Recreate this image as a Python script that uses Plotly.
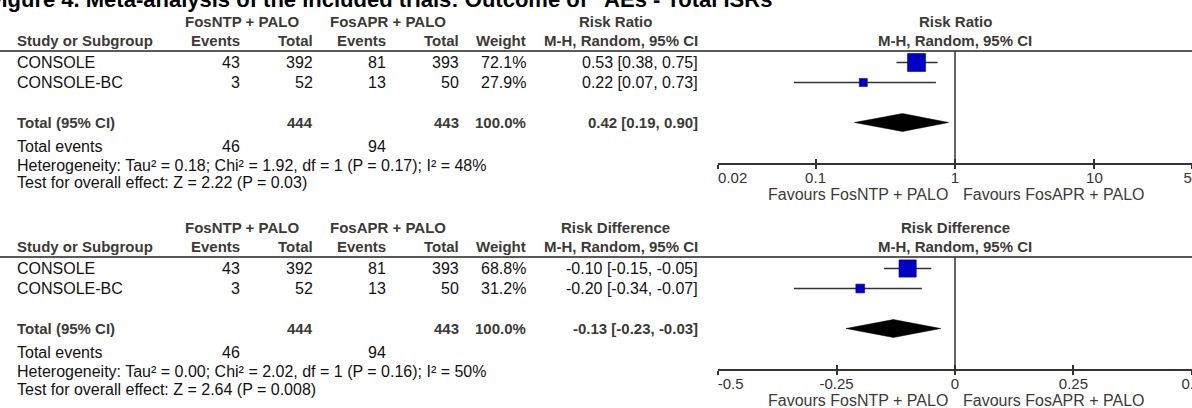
import math
import plotly.graph_objects as go

W, H = 1192, 408

# ---------------- data ----------------
title_text = "Figure 4. Meta-analysis of the included trials: Outcome of \u201cAEs - Total ISRs"
studies = ["CONSOLE", "CONSOLE-BC"]
ntp_events = [43, 3]
ntp_total = [392, 52]
apr_events = [81, 13]
apr_total = [393, 50]
ntp_events_sum = 46
apr_events_sum = 94
ntp_total_sum = 444
apr_total_sum = 443

rr_weight = [72.1, 27.9]
rr_est = [0.53, 0.22]
rr_lo = [0.38, 0.07]
rr_hi = [0.75, 0.73]
rr_pooled = [0.42, 0.19, 0.90]
rr_het = "Heterogeneity: Tau\u00b2 = 0.18; Chi\u00b2 = 1.92, df = 1 (P = 0.17); I\u00b2 = 48%"
rr_test = "Test for overall effect: Z = 2.22 (P = 0.03)"
rr_ticks = [0.02, 0.1, 1, 10, 50]
rr_ticklabels = ["0.02", "0.1", "1", "10", "50"]

rd_weight = [68.8, 31.2]
rd_est = [-0.10, -0.20]
rd_lo = [-0.15, -0.34]
rd_hi = [-0.05, -0.07]
rd_pooled = [-0.13, -0.23, -0.03]
rd_het = "Heterogeneity: Tau\u00b2 = 0.00; Chi\u00b2 = 2.02, df = 1 (P = 0.16); I\u00b2 = 50%"
rd_test = "Test for overall effect: Z = 2.64 (P = 0.008)"
rd_ticks = [-0.5, -0.25, 0, 0.25, 0.5]
rd_ticklabels = ["-0.5", "-0.25", "0", "0.25", "0.5"]

favours_left = "Favours FosNTP + PALO"
favours_right = "Favours FosAPR + PALO"

# ---------------- style ----------------
FONT = "Liberation Sans, Arial, sans-serif"
TXT = "#111111"
HDR = "#3d3a36"
LINE = "#333333"
BLUE = "#0000c4"
FS = 16      # regular table text
FSB = 15     # bold header text

fig = go.Figure()
fig.add_trace(go.Scatter(x=[0], y=[0], mode="markers", marker=dict(opacity=0),
                         hoverinfo="skip", showlegend=False, xaxis="x", yaxis="y"))


def txt(x, y, s, anchor="left", bold=False, size=None, color=TXT):
    if size is None:
        size = FSB if bold else FS
    fig.add_annotation(x=x / W, y=1 - y / H, xref="paper", yref="paper", text=s,
                       showarrow=False, xanchor=anchor, yanchor="middle", borderpad=0,
                       font=dict(family=FONT, size=size, color=color,
                                 weight="bold" if bold else "normal"))


txt(-13, -1, title_text, bold=True, size=22, color="#000000")

C_NAME, C_NE, C_NT, C_AE, C_AT, C_W, C_CI = 16, 241, 314, 387, 460, 527, 699
AX_L = 718
X_NULL = 955
ROW_H = 20

panels = [
    dict(off=0, name="Risk Ratio", w=rr_weight, est=rr_est, lo=rr_lo, hi=rr_hi,
         pooled=rr_pooled, het=rr_het, test=rr_test, ticks=rr_ticks,
         ticklabels=rr_ticklabels, log=True, null=1, xa="x2", ya="y2", xo="x4"),
    dict(off=206, name="Risk Difference", w=rd_weight, est=rd_est, lo=rd_lo, hi=rd_hi,
         pooled=rd_pooled, het=rd_het, test=rd_test, ticks=rd_ticks,
         ticklabels=rd_ticklabels, log=False, null=0, xa="x3", ya="y3", xo="x5"),
]

fmt = "{:.2f} [{:.2f}, {:.2f}]"
for p in panels:
    o = p["off"]
    row0 = 42.5 + o
    line_y = 51 + o
    axis_y = 163 + o
    rows = [row0 + ROW_H * (i + 1) for i in range(len(studies))]
    k_total = len(studies) + 2
    y_total = row0 + ROW_H * k_total - 0.5

    txt(242, 21 + o, "FosNTP + PALO", "center", True, color=HDR)
    txt(388, 21 + o, "FosAPR + PALO", "center", True, color=HDR)
    txt(615, 21 + o, p["name"], "center", True, color=HDR)
    txt(X_NULL, 21 + o, p["name"], "center", True, color=HDR)
    txt(C_NAME, 41 + o, "Study or Subgroup", "left", True, color=HDR)
    txt(C_NE, 41 + o, "Events", "right", True, color=HDR)
    txt(C_NT, 41 + o, "Total", "right", True, color=HDR)
    txt(C_AE, 41 + o, "Events", "right", True, color=HDR)
    txt(C_AT, 41 + o, "Total", "right", True, color=HDR)
    txt(C_W, 41 + o, "Weight", "right", True, color=HDR)
    txt(C_CI, 41 + o, "M-H, Random, 95% CI", "right", True, color=HDR)
    txt(X_NULL, 41 + o, "M-H, Random, 95% CI", "center", True, color=HDR)
    fig.add_shape(type="line", xref="paper", yref="paper", x0=0, x1=1,
                  y0=1 - line_y / H, y1=1 - line_y / H,
                  line=dict(color="#5a5a5a", width=2))

    for i, s in enumerate(studies):
        y = rows[i]
        txt(C_NAME, y, s)
        txt(C_NE, y, str(ntp_events[i]), "right")
        txt(C_NT, y, str(ntp_total[i]), "right")
        txt(C_AE, y, str(apr_events[i]), "right")
        txt(C_AT, y, str(apr_total[i]), "right")
        txt(C_W, y, "{:.1f}%".format(p["w"][i]), "right")
        txt(C_CI, y, fmt.format(p["est"][i], p["lo"][i], p["hi"][i]), "right")

    pe = p["pooled"]
    txt(C_NAME, y_total, "Total (95% CI)", "left", True, color=HDR)
    txt(C_NT, y_total, str(ntp_total_sum), "right", True, color=HDR)
    txt(C_AT, y_total, str(apr_total_sum), "right", True, color=HDR)
    txt(C_W, y_total, "100.0%", "right", True, color=HDR)
    txt(C_CI, y_total, fmt.format(*pe), "right", True, color=HDR)
    txt(C_NAME, 146 + o, "Total events")
    txt(C_NE, 146 + o, str(ntp_events_sum), "right")
    txt(C_AE, 146 + o, str(apr_events_sum), "right")
    txt(C_NAME, 165 + o, p["het"])
    txt(C_NAME, 183 + o, p["test"])

    txt(949, 194 + o, favours_left, "right", size=16, color="#3d3a36")
    txt(962, 194 + o, favours_right, "left", size=16, color="#3d3a36")

    xa, ya = p["xa"], p["ya"]
    ci_x, ci_y = [], []
    for i in range(len(studies)):
        ci_x += [p["lo"][i], p["hi"][i], None]
        ci_y += [i + 1, i + 1, None]
    fig.add_trace(go.Scatter(x=ci_x, y=ci_y, mode="lines", line=dict(color=LINE, width=1.6),
                             xaxis=xa, yaxis=ya, hoverinfo="skip", showlegend=False))
    sizes = [1.7 + 0.226 * w for w in p["w"]]
    fig.add_trace(go.Scatter(x=p["est"], y=[i + 1 for i in range(len(studies))], mode="markers",
                             marker=dict(symbol="square", size=sizes, color=BLUE, opacity=1,
                                         line=dict(color="#00009a", width=0.6)),
                             xaxis=xa, yaxis=ya, hoverinfo="skip", showlegend=False))
    hh = 0.45
    est, lo, hi = pe
    fig.add_trace(go.Scatter(x=[lo, est, hi, est, lo],
                             y=[k_total, k_total - hh, k_total, k_total + hh, k_total],
                             mode="lines", fill="toself", fillcolor="#000000",
                             line=dict(color="#000000", width=0.5),
                             xaxis=xa, yaxis=ya, hoverinfo="skip", showlegend=False))
    fig.add_trace(go.Scatter(x=[p["null"]], y=[1], mode="markers", marker=dict(opacity=0),
                             xaxis=p["xo"], yaxis=ya, hoverinfo="skip", showlegend=False))

    fig.add_shape(type="line", xref=xa, yref=ya + " domain", x0=p["null"], x1=p["null"],
                  y0=0, y1=1, line=dict(color=LINE, width=1.5))

    if p["log"]:
        rng = [math.log10(p["ticks"][0]) - 0.0005, math.log10(p["ticks"][-1]) + 0.0005]
        atype = "log"
    else:
        rng = [p["ticks"][0] - 0.0002, p["ticks"][-1] + 0.0002]
        atype = "linear"
    labels = list(p["ticklabels"])
    labels[0] = "\u00a0" * (7 if p["log"] else 6) + labels[0]
    k_top = (line_y - row0) / ROW_H
    k_bot = (axis_y - row0) / ROW_H
    yd = [1 - axis_y / H, 1 - line_y / H]
    fig.update_layout(**{
        "xaxis" + xa[1:]: dict(type=atype, domain=[AX_L / W, 1], range=rng, anchor=ya,
                               showline=True, linecolor=LINE, linewidth=1.5, ticks="outside",
                               ticklen=4, tickwidth=1.5, tickcolor=LINE, tickmode="array",
                               tickvals=p["ticks"], ticktext=labels, showgrid=False,
                               zeroline=False, automargin=False, ticklabeloverflow="allow",
                               ticklabelstandoff=-4,
                               tickfont=dict(family=FONT, size=15, color="#333333"),
                               fixedrange=True),
        "xaxis" + p["xo"][1:]: dict(type=atype, overlaying=xa, range=rng, anchor=ya,
                                    side="bottom", ticks="inside", ticklen=4, tickwidth=1.5,
                                    tickcolor=LINE, tickmode="array", tickvals=p["ticks"],
                                    showticklabels=False, showline=False, showgrid=False,
                                    zeroline=False, automargin=False, fixedrange=True),
        "yaxis" + ya[1:]: dict(domain=yd, range=[k_bot, k_top], visible=False, anchor=xa,
                               automargin=False, fixedrange=True),
    })

fig.update_layout(
    width=W, height=H, autosize=False,
    margin=dict(l=0, r=0, t=0, b=0, pad=0, autoexpand=False),
    paper_bgcolor="white", plot_bgcolor="white",
    showlegend=False,
    xaxis=dict(range=[0, W], domain=[0, 1], visible=False, fixedrange=True, automargin=False),
    yaxis=dict(range=[H, 0], domain=[0, 1], visible=False, fixedrange=True, automargin=False),
    font=dict(family=FONT, size=FS, color=TXT),
)

fig.write_html("out.html", config={"displayModeBar": False, "responsive": False},
               post_script="document.body.style.margin='0';document.body.style.padding='0';"
                           "document.documentElement.style.overflow='hidden';")
